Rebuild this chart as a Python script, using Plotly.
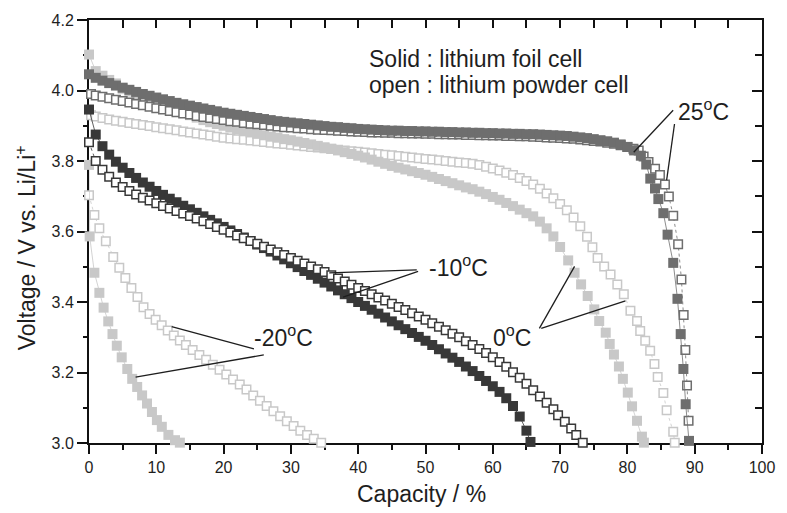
import plotly.graph_objects as go

# ---------------- data ----------------
cap_25_solid = [0, 1, 2, 3, 4, 5, 6, 7, 8, 9, 10, 11, 12, 13, 14, 15, 16, 17, 18, 19, 20,
                21, 22, 23, 24, 25, 26, 27, 28, 29, 30, 31, 32, 33, 34, 35, 36, 37, 38, 39, 40,
                41, 42, 43, 44, 45, 46, 47, 48, 49, 50, 51, 52, 53, 54, 55, 56, 57, 58, 59, 60,
                61, 62, 63, 64, 65, 66, 67, 68, 69, 70, 71, 72, 73, 74, 75, 76, 77, 78, 79, 80,
                81, 82, 82.8, 83.4, 84.1, 84.6, 85.34, 85.97, 86.81, 87.44, 87.92, 88.32, 88.66, 89.15]
v_25_solid = [4.046, 4.036, 4.028, 4.021, 4.014, 4.008, 4.002, 3.996, 3.990, 3.985, 3.980,
              3.975, 3.970, 3.965, 3.961, 3.957, 3.953, 3.949, 3.945, 3.941, 3.937,
              3.934, 3.931, 3.928, 3.925, 3.922, 3.919, 3.916, 3.913, 3.911, 3.909,
              3.907, 3.905, 3.903, 3.901, 3.899, 3.897, 3.896, 3.894, 3.893, 3.891,
              3.890, 3.889, 3.888, 3.887, 3.886, 3.886, 3.885, 3.885, 3.884, 3.884,
              3.883, 3.883, 3.882, 3.882, 3.881, 3.881, 3.880, 3.880, 3.879, 3.879,
              3.878, 3.878, 3.877, 3.877, 3.876, 3.876, 3.875, 3.874, 3.873, 3.872,
              3.871, 3.869, 3.867, 3.865, 3.862, 3.859, 3.856, 3.852, 3.847, 3.840,
              3.830, 3.815, 3.790, 3.750, 3.722, 3.692, 3.652, 3.591, 3.511, 3.409, 3.309, 3.210, 3.110, 3.006]

cap_25_open = [0.3, 1, 2, 3, 4, 5, 6, 7, 8, 9, 10, 11, 12, 13, 14, 15, 16, 17, 18, 19, 20,
               21, 22, 23, 24, 25, 26, 27, 28, 29, 30, 31, 32, 33, 34, 35, 36, 37, 38, 39, 40,
               41, 42, 43, 44, 45, 46, 47, 48, 49, 50, 51, 52, 53, 54, 55, 56, 57, 58, 59, 60,
               61, 62, 63, 64, 65, 66, 67, 68, 69, 70, 71, 72, 73, 74, 75, 76, 77, 78, 79, 80,
               80.9, 81.68, 82.41, 83.14, 84.11, 84.84, 85.58, 86.16, 86.81, 87.54, 88.03, 88.36,
               88.61, 88.86, 89.09]
v_25_open = [3.990, 3.986, 3.982, 3.978, 3.974, 3.970, 3.966, 3.962, 3.958, 3.954, 3.950,
             3.946, 3.942, 3.938, 3.935, 3.932, 3.928, 3.925, 3.922, 3.919, 3.916,
             3.913, 3.911, 3.908, 3.906, 3.904, 3.902, 3.900, 3.898, 3.896, 3.895,
             3.893, 3.892, 3.890, 3.889, 3.888, 3.887, 3.886, 3.885, 3.884, 3.883,
             3.882, 3.881, 3.881, 3.880, 3.880, 3.879, 3.879, 3.878, 3.878, 3.877,
             3.877, 3.876, 3.876, 3.875, 3.875, 3.874, 3.874, 3.873, 3.873, 3.872,
             3.872, 3.871, 3.871, 3.870, 3.870, 3.869, 3.868, 3.867, 3.866, 3.865,
             3.864, 3.863, 3.861, 3.859, 3.857, 3.855, 3.852, 3.849, 3.845, 3.840,
             3.835, 3.830, 3.813, 3.797, 3.778, 3.760, 3.733, 3.699, 3.645, 3.564, 3.464, 3.363,
             3.264, 3.163, 3.063]

cap_0_solid = [0, 1, 2, 3, 4, 5, 6, 7, 8, 9, 10, 11, 12, 13, 14, 15, 16, 17, 18, 19, 20,
               21, 22, 23, 24, 25, 26, 27, 28, 29, 30, 31, 32, 33, 34, 35, 36, 37, 38, 39, 40,
               41, 42, 43, 44, 45, 46, 47, 48, 49, 50, 51, 52, 53, 54, 55, 56, 57, 58, 59, 60,
               61, 62, 63, 64, 65, 66, 67, 68, 69, 70, 71.2, 72.15, 73.12, 74.1, 75.08, 75.81,
               76.78, 77.37, 78.0, 78.74, 79.33, 80.06, 80.69, 81.43, 82.16, 82.45]
v_0_solid = [4.102, 4.055, 4.042, 4.030, 4.020, 4.005, 3.997, 3.989, 3.981, 3.973, 3.965,
             3.958, 3.951, 3.944, 3.937, 3.930, 3.923, 3.916, 3.910, 3.905, 3.900,
             3.895, 3.890, 3.885, 3.881, 3.877, 3.873, 3.869, 3.866, 3.862, 3.859,
             3.855, 3.851, 3.847, 3.843, 3.839, 3.835, 3.830, 3.825, 3.820, 3.815,
             3.810, 3.804, 3.798, 3.792, 3.786, 3.781, 3.776, 3.771, 3.766, 3.761,
             3.755, 3.749, 3.743, 3.737, 3.731, 3.725, 3.720, 3.713, 3.706, 3.698,
             3.690, 3.681, 3.672, 3.662, 3.652, 3.643, 3.628, 3.609, 3.586, 3.556,
             3.518, 3.483, 3.450, 3.417, 3.379, 3.346, 3.313, 3.281, 3.251, 3.217,
             3.182, 3.143, 3.104, 3.063, 3.018, 3.001]

cap_0_open = [0.3, 1, 2, 3, 4, 5, 6, 7, 8, 9, 10, 11, 12, 13, 14, 15, 16, 17, 18, 19, 20,
              21, 22, 23, 24, 25, 26, 27, 28, 29, 30, 31, 32, 33, 34, 35, 36, 37, 38, 39, 40,
              41, 42, 43, 44, 45, 46, 47, 48, 49, 50, 51, 52, 53, 54, 55, 56, 57, 58, 59, 60,
              61, 62, 63, 64, 65, 66, 67, 68, 69, 70, 71, 72, 73, 74, 74.8, 75.57, 76.55,
              77.5, 78.5, 79.47, 80.45, 81.43, 81.9, 82.65, 83.38, 84.02, 84.5, 85.34, 85.83,
              86.81, 87.04]
v_0_open = [3.930, 3.926, 3.922, 3.918, 3.914, 3.911, 3.908, 3.905, 3.902, 3.899, 3.896,
            3.893, 3.890, 3.887, 3.884, 3.881, 3.878, 3.875, 3.872, 3.869, 3.866,
            3.864, 3.862, 3.860, 3.858, 3.856, 3.854, 3.852, 3.850, 3.848, 3.846,
            3.844, 3.842, 3.840, 3.838, 3.836, 3.834, 3.832, 3.830, 3.828, 3.826,
            3.824, 3.822, 3.820, 3.818, 3.816, 3.814, 3.812, 3.810, 3.808, 3.806,
            3.804, 3.802, 3.800, 3.798, 3.796, 3.794, 3.792, 3.789, 3.784, 3.779,
            3.773, 3.767, 3.760, 3.752, 3.743, 3.733, 3.721, 3.708, 3.694, 3.678,
            3.660, 3.640, 3.615, 3.585, 3.555, 3.525, 3.501,
            3.478, 3.450, 3.422, 3.375, 3.346, 3.318, 3.290, 3.262, 3.224, 3.187, 3.142, 3.093,
            3.032, 3.001]

cap_m10_solid = [0, 1, 2, 3, 4, 5, 6, 7, 8, 9, 10, 11, 12, 13, 14, 15, 16, 17, 18, 19, 20,
                 21, 22, 23, 24, 25, 26, 27, 28, 29, 30, 31, 32, 33, 34, 35, 36, 37, 38, 39, 40,
                 41, 42, 43, 44, 45, 46, 47, 48, 49, 50, 51, 52, 53, 54, 55, 56, 57, 58, 59, 60,
                 61, 62, 63, 64, 65, 65.6]
v_m10_solid = [3.946, 3.875, 3.842, 3.818, 3.798, 3.781, 3.766, 3.752, 3.739, 3.727, 3.715,
               3.704, 3.693, 3.683, 3.673, 3.663, 3.653, 3.643, 3.633, 3.623, 3.613,
               3.603, 3.593, 3.583, 3.573, 3.563, 3.553, 3.543, 3.532, 3.521, 3.510,
               3.499, 3.488, 3.477, 3.466, 3.455, 3.444, 3.433, 3.422, 3.411, 3.400,
               3.389, 3.378, 3.367, 3.356, 3.345, 3.334, 3.323, 3.312, 3.301, 3.290,
               3.278, 3.266, 3.254, 3.242, 3.230, 3.217, 3.204, 3.190, 3.176, 3.161,
               3.145, 3.127, 3.105, 3.075, 3.035, 3.003]

cap_m10_open = [0, 1, 2, 3, 4, 5, 6, 7, 8, 9, 10, 11, 12, 13, 14, 15, 16, 17, 18, 19, 20,
                21, 22, 23, 24, 25, 26, 27, 28, 29, 30, 31, 32, 33, 34, 35, 36, 37, 38, 39, 40,
                41, 42, 43, 44, 45, 46, 47, 48, 49, 50, 51, 52, 53, 54, 55, 56, 57, 58, 59, 60,
                61, 62, 63, 64, 65, 66, 67, 68, 69, 69.7, 70.7, 71.65, 72.4, 73.37]
v_m10_open = [3.853, 3.800, 3.775, 3.755, 3.739, 3.726, 3.715, 3.705, 3.696, 3.688, 3.680,
              3.672, 3.665, 3.658, 3.651, 3.644, 3.637, 3.629, 3.621, 3.613, 3.605,
              3.597, 3.589, 3.581, 3.573, 3.565, 3.557, 3.549, 3.541, 3.533, 3.525,
              3.517, 3.509, 3.501, 3.493, 3.485, 3.476, 3.467, 3.458, 3.449, 3.440,
              3.431, 3.422, 3.413, 3.404, 3.395, 3.386, 3.377, 3.368, 3.359, 3.350,
              3.340, 3.330, 3.320, 3.310, 3.300, 3.289, 3.278, 3.267, 3.255, 3.243,
              3.230, 3.216, 3.201, 3.185, 3.168, 3.150, 3.132, 3.114, 3.096, 3.079,
              3.060, 3.041, 3.023, 3.001]

cap_m20_solid = [0, 0.1, 0.8, 1.54, 2.17, 2.86, 3.49, 4.13, 4.86, 5.69, 6.42, 7.16, 7.89,
                 8.62, 9.35, 10.09, 10.82, 11.8, 12.78, 13.5]
v_m20_solid = [3.789, 3.586, 3.483, 3.426, 3.384, 3.345, 3.309, 3.276, 3.243, 3.210, 3.182,
               3.159, 3.135, 3.112, 3.088, 3.065, 3.046, 3.023, 3.008, 3.001]

cap_m20_open = [0, 0.8, 1.54, 2.5, 3.6, 4.5, 5.4, 6.3, 7.2, 8.1, 9.0, 9.9, 10.8, 11.7, 12.6,
                13.5, 14.4, 15.4, 16.4, 17.4, 18.4, 19.4, 20.4, 21.4, 22.4, 23.4, 24.4, 25.4,
                26.4, 27.4, 28.4, 29.4, 30.4, 31.4, 32.4, 33.4, 34.5]
v_m20_open = [3.703, 3.647, 3.609, 3.572, 3.528, 3.497, 3.468, 3.440, 3.414, 3.385, 3.366,
              3.350, 3.334, 3.319, 3.305, 3.291, 3.278, 3.264, 3.250, 3.236, 3.222, 3.208,
              3.194, 3.180, 3.166, 3.152, 3.135, 3.120, 3.105, 3.090, 3.076, 3.062, 3.048,
              3.035, 3.023, 3.012, 3.001]

x_ticks = [0, 10, 20, 30, 40, 50, 60, 70, 80, 90, 100]
y_ticks = [3.0, 3.2, 3.4, 3.6, 3.8, 4.0, 4.2]

# ---------------- styling ----------------
FONT = "Liberation Sans, Arial, Helvetica, sans-serif"
TXT = "#1e1e1e"
C25 = "#6e6e6e"
C0 = "#c8c8c8"
CM10 = "#383838"
CM20 = "#c8c8c8"

fig = go.Figure()


def add_series(x, y, color, filled, dash):
    if filled:
        marker = dict(symbol="square", size=10, color=color, line=dict(width=0))
    else:
        marker = dict(symbol="square", size=8.5, color="white", line=dict(width=1.5, color=color))
    fig.add_trace(go.Scatter(x=x, y=y, mode="lines+markers", marker=marker,
                             line=dict(color=color, width=0.8, dash=dash),
                             cliponaxis=False, showlegend=False, hoverinfo="skip"))


add_series(cap_0_open, v_0_open, C0, False, "dot")
add_series(cap_0_solid, v_0_solid, C0, True, "solid")
add_series(cap_25_open, v_25_open, C25, False, "dot")
add_series(cap_25_solid, v_25_solid, C25, True, "solid")
add_series(cap_m20_open, v_m20_open, CM20, False, "dot")
add_series(cap_m20_solid, v_m20_solid, CM20, True, "solid")
add_series(cap_m10_solid, v_m10_solid, CM10, True, "solid")
add_series(cap_m10_open, v_m10_open, CM10, False, "dot")

# empty trace so the mirrored (top / right) axes exist
fig.add_trace(go.Scatter(x=[], y=[], xaxis="x2", yaxis="y2", showlegend=False, hoverinfo="skip"))

axis_common = dict(showgrid=False, zeroline=False, showline=True, linewidth=2, linecolor="#111",
                   tickwidth=2, tickcolor="#111", layer="below traces")

fig.update_layout(
    width=787, height=513,
    margin=dict(l=89, r=15, t=17, b=70),
    paper_bgcolor="white", plot_bgcolor="white",
    font=dict(family=FONT, color=TXT, size=16),
    xaxis=dict(range=[0, 100], tickvals=x_ticks, ticks="outside", ticklen=9,
               minor=dict(dtick=5, tick0=0, ticks="outside", ticklen=5, tickwidth=2, tickcolor="#111"),
               tickfont=dict(size=16, color=TXT), **axis_common),
    yaxis=dict(range=[3.0, 4.2], tickvals=y_ticks, tickformat=".1f", ticks="outside", ticklen=10,
               minor=dict(dtick=0.1, tick0=3.0, ticks="outside", ticklen=4, tickwidth=2, tickcolor="#111"),
               tickfont=dict(size=16, color=TXT), **axis_common),
    xaxis2=dict(range=[0, 100], overlaying="x", side="top", anchor="y", tickvals=x_ticks,
                ticks="inside", ticklen=8, showticklabels=False,
                minor=dict(dtick=5, tick0=0, ticks="inside", ticklen=8, tickwidth=2, tickcolor="#111"),
                **axis_common),
    yaxis2=dict(range=[3.0, 4.2], overlaying="y", side="right", anchor="x", tickvals=y_ticks,
                ticks="inside", ticklen=10, showticklabels=False,
                minor=dict(dtick=0.1, tick0=3.0, ticks="inside", ticklen=7, tickwidth=2, tickcolor="#111"),
                **axis_common),
)

ann_font = dict(family=FONT, size=23, color=TXT)
annotations = [
    dict(x=41.37, y=4.0907, text="Solid : lithium foil cell", xanchor="left", yanchor="middle"),
    dict(x=41.37, y=4.0144, text="open : lithium powder cell", xanchor="left", yanchor="middle"),
    dict(x=87.28, y=3.944, text="25<sup>o</sup>C", xanchor="left", yanchor="middle"),
    dict(x=50.16, y=3.501, text="-10<sup>o</sup>C", xanchor="left", yanchor="middle"),
    dict(x=24.26, y=3.304, text="-20<sup>o</sup>C", xanchor="left", yanchor="middle"),
    dict(x=66.04, y=3.304, text="0<sup>o</sup>C", xanchor="right", yanchor="middle"),
]
for a in annotations:
    fig.add_annotation(xref="x", yref="y", showarrow=False, font=ann_font, **a)

fig.add_annotation(xref="x", yref="paper", x=49.4, y=-0.1197, text="Capacity / %",
                   showarrow=False, font=ann_font, xanchor="center", yanchor="middle")
fig.add_annotation(xref="paper", yref="paper", x=-0.0937, y=0.4624,
                   text="Voltage / V vs. Li/Li<sup>+</sup>", textangle=-90,
                   showarrow=False, font=ann_font, xanchor="center", yanchor="middle")

pointer_lines = [
    (86.8, 3.944, 80.94, 3.825), (87.0, 3.905, 85.83, 3.746),
    (48.7, 3.491, 35.7, 3.4825), (48.9, 3.487, 37.75, 3.414),
    (24.51, 3.267, 12.28, 3.330), (25.97, 3.250, 6.92, 3.187),
    (66.92, 3.325, 72.15, 3.501), (67.2, 3.325, 79.71, 3.403),
]
for x0, y0, x1, y1 in pointer_lines:
    fig.add_shape(type="line", xref="x", yref="y", x0=x0, y0=y0, x1=x1, y1=y1,
                  line=dict(color=TXT, width=1.3))

fig.write_html("out.html")
